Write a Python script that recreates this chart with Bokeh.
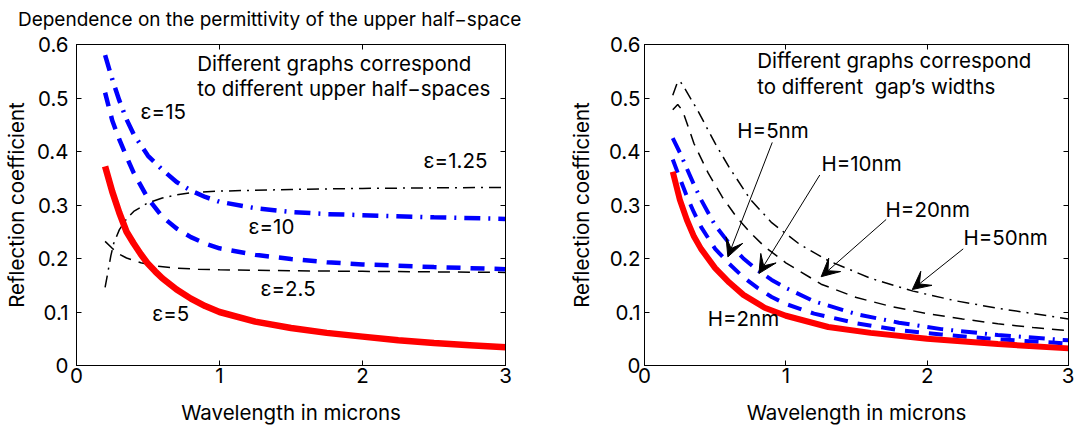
from bokeh.plotting import figure
from bokeh.models import LinearAxis, FixedTicker, Label, Arrow, VeeHead, Range1d
from bokeh.layouts import row
from bokeh.embed import file_html
from bokeh.resources import INLINE

FONT = "Inter"
FS = "20.5px"
TITLE_FS = "19px"

# ---------------- data: left panel (permittivity) ----------------
lam_e5 = [0.2, 0.25, 0.3, 0.35, 0.4, 0.45, 0.5, 0.55, 0.6, 0.7, 0.8, 0.9, 1.0, 1.25, 1.5, 1.75, 2.0, 2.25, 2.5, 2.75, 3.0]
R_e5 = [0.372, 0.325, 0.285, 0.250, 0.228, 0.208, 0.190, 0.176, 0.163, 0.142, 0.125, 0.111, 0.100, 0.082, 0.070, 0.061, 0.054, 0.047, 0.042, 0.038, 0.034]

lam_e10 = [0.2, 0.25, 0.3, 0.35, 0.4, 0.5, 0.6, 0.7, 0.8, 0.9, 1.0, 1.25, 1.5, 1.75, 2.0, 2.5, 3.0]
R_e10 = [0.510, 0.458, 0.422, 0.390, 0.360, 0.312, 0.278, 0.256, 0.240, 0.228, 0.219, 0.207, 0.199, 0.193, 0.189, 0.184, 0.180]

lam_e15 = [0.2, 0.25, 0.3, 0.35, 0.4, 0.5, 0.6, 0.7, 0.8, 0.9, 1.0, 1.25, 1.5, 1.75, 2.0, 2.5, 3.0]
R_e15 = [0.580, 0.535, 0.495, 0.460, 0.432, 0.392, 0.366, 0.343, 0.327, 0.315, 0.306, 0.294, 0.287, 0.283, 0.281, 0.277, 0.274]

lam_e125 = [0.2, 0.22, 0.24, 0.26, 0.3, 0.35, 0.4, 0.5, 0.6, 0.7, 0.8, 1.0, 1.5, 2.0, 2.5, 3.0]
R_e125 = [0.146, 0.175, 0.205, 0.228, 0.254, 0.274, 0.288, 0.304, 0.313, 0.319, 0.323, 0.326, 0.329, 0.331, 0.332, 0.333]

lam_e25 = [0.2, 0.25, 0.3, 0.35, 0.45, 0.55, 0.7, 0.85, 1.0, 1.5, 2.0, 2.5, 3.0]
R_e25 = [0.232, 0.219, 0.208, 0.201, 0.192, 0.186, 0.182, 0.180, 0.179, 0.177, 0.176, 0.175, 0.174]

# ---------------- data: right panel (gap width) ----------------
lam_h2 = [0.2, 0.25, 0.3, 0.35, 0.4, 0.5, 0.6, 0.7, 0.85, 1.0, 1.3, 1.6, 2.0, 2.5, 3.0]
R_h2 = [0.362, 0.310, 0.272, 0.241, 0.218, 0.182, 0.155, 0.132, 0.108, 0.093, 0.072, 0.061, 0.050, 0.040, 0.032]

lam_h5 = [0.2, 0.25, 0.3, 0.35, 0.4, 0.5, 0.6, 0.7, 0.8, 0.9, 1.0, 1.2, 1.5, 1.8, 2.1, 2.5, 3.0]
R_h5 = [0.385, 0.350, 0.316, 0.286, 0.259, 0.218, 0.190, 0.165, 0.145, 0.128, 0.115, 0.097, 0.079, 0.066, 0.058, 0.049, 0.041]

lam_h10 = [0.2, 0.25, 0.3, 0.35, 0.4, 0.5, 0.6, 0.7, 0.8, 0.9, 1.0, 1.2, 1.5, 1.8, 2.1, 2.5, 3.0]
R_h10 = [0.425, 0.398, 0.368, 0.338, 0.310, 0.262, 0.228, 0.200, 0.178, 0.160, 0.145, 0.120, 0.096, 0.080, 0.068, 0.057, 0.047]

lam_h20 = [0.2, 0.235, 0.27, 0.35, 0.45, 0.55, 0.65, 0.75, 0.85, 1.0, 1.25, 1.5, 1.75, 2.0, 2.25, 2.5, 2.75, 3.0]
R_h20 = [0.478, 0.488, 0.476, 0.415, 0.360, 0.315, 0.278, 0.248, 0.222, 0.192, 0.152, 0.127, 0.110, 0.097, 0.087, 0.078, 0.071, 0.065]

lam_h50 = [0.2, 0.23, 0.25, 0.28, 0.38, 0.5, 0.6, 0.75, 0.9, 1.1, 1.3, 1.6, 1.9, 2.2, 2.5, 2.75, 3.0]
R_h50 = [0.505, 0.527, 0.532, 0.520, 0.475, 0.415, 0.370, 0.310, 0.267, 0.226, 0.196, 0.163, 0.139, 0.121, 0.107, 0.097, 0.087]

x_ticks = [0, 1, 2, 3]
y_ticks = [0, 0.1, 0.2, 0.3, 0.4, 0.5, 0.6]

# text annotations (data coordinates)
left_notes = [
    ("Different graphs correspond", 0.844, 0.564),
    ("to different upper half\u2212spaces", 0.844, 0.518),
    ("\u03b5=15", 0.448, 0.475),
    ("\u03b5=1.25", 2.427, 0.383),
    ("\u03b5=10", 1.203, 0.260),
    ("\u03b5=2.5", 1.287, 0.143),
    ("\u03b5=5", 0.529, 0.097),
]
right_notes = [
    ("Different graphs correspond", 0.797, 0.571),
    ("to different\u00a0 gap\u2019s widths", 0.797, 0.521),
    ("H=5nm", 0.657, 0.439),
    ("H=10nm", 1.252, 0.378),
    ("H=20nm", 1.706, 0.292),
    ("H=50nm", 2.257, 0.240),
    ("H=2nm", 0.448, 0.087),
]
arrow_tail_x = [0.904, 1.24, 1.71, 2.255]
arrow_tail_y = [0.417, 0.356, 0.273, 0.218]
arrow_tip_x = [0.59, 0.81, 1.25, 1.895]
arrow_tip_y = [0.203, 0.172, 0.166, 0.142]

title_text = "Dependence on the permittivity of the upper half\u2212space"


def make_fig(width, bl, br, bt):
    p = figure(width=width, height=427, x_range=Range1d(0, 3), y_range=Range1d(0, 0.6),
               output_backend="svg", toolbar_location=None,
               min_border_left=bl, min_border_right=br, min_border_top=bt, min_border_bottom=58)
    p.grid.visible = False
    p.outline_line_color = "black"
    p.outline_line_width = 1
    p.background_fill_color = "white"
    p.border_fill_color = "white"
    p.xaxis[0].ticker = FixedTicker(ticks=x_ticks)
    p.yaxis[0].ticker = FixedTicker(ticks=y_ticks)
    p.xaxis[0].axis_label = "Wavelength in microns"
    p.yaxis[0].axis_label = "Reflection coefficient"
    p.yaxis[0].major_label_overrides = {0: "0"}
    for ax in (p.xaxis[0], p.yaxis[0]):
        ax.major_tick_in = 5
        ax.major_tick_out = 0
        ax.minor_tick_line_color = None
        ax.axis_line_color = "black"
        ax.major_tick_line_color = "black"
        ax.major_label_text_font = FONT
        ax.major_label_text_font_size = FS
        ax.major_label_text_color = "black"
        ax.axis_label_text_font = FONT
        ax.axis_label_text_font_size = FS
        ax.axis_label_text_font_style = "normal"
        ax.axis_label_text_color = "black"
    p.xaxis[0].major_label_standoff = 2
    p.xaxis[0].axis_label_standoff = 14
    top = LinearAxis(ticker=FixedTicker(ticks=x_ticks))
    right = LinearAxis(ticker=FixedTicker(ticks=y_ticks))
    for ax in (top, right):
        ax.major_tick_in = 5
        ax.major_tick_out = 0
        ax.minor_tick_line_color = None
        ax.major_label_text_font_size = "1px"
        ax.major_label_text_color = None
        ax.major_label_standoff = 0
        ax.axis_line_color = "black"
    p.add_layout(top, "above")
    p.add_layout(right, "right")
    return p, top


def add_note(p, text, x, y):
    p.add_layout(Label(x=x, y=y, text=text, text_font=FONT, text_font_size=FS,
                       text_color="black", text_align="left", text_baseline="middle"))


# ---------------- left figure ----------------
pl, pl_top = make_fig(565, 76, 60, 44)
pl.yaxis[0].major_label_standoff = 8
pl.yaxis[0].axis_label_standoff = 5
# overall heading, carried by the top axis (left part of the page)
pl_top.axis_label = title_text + "\u00a0" * 8
pl_top.axis_label_text_font = FONT
pl_top.axis_label_text_font_size = TITLE_FS
pl_top.axis_label_text_font_style = "normal"
pl_top.axis_label_text_color = "black"
pl_top.axis_label_standoff = 14
pl.line(lam_e125, R_e125, line_color="black", line_width=1.5, line_dash="12 6 2 6")
pl.line(lam_e25, R_e25, line_color="black", line_width=1.5, line_dash="12 8")
pl.line(lam_e10, R_e10, line_color="blue", line_width=4.5, line_dash="14 10")
pl.line(lam_e15, R_e15, line_color="blue", line_width=4.5, line_dash="16 8 2 8")
pl.line(lam_e5, R_e5, line_color="red", line_width=6.5)
for t, x, y in left_notes:
    add_note(pl, t, x, y)

# ---------------- right figure ----------------
pr, pr_top = make_fig(509, 74, 6, 42)
pr.yaxis[0].major_label_standoff = 4
pr.yaxis[0].axis_label_standoff = 12
pr.line(lam_h50, R_h50, line_color="black", line_width=1.5, line_dash="12 6 2 6")
pr.line(lam_h20, R_h20, line_color="black", line_width=1.5, line_dash="12 8")
pr.line(lam_h10, R_h10, line_color="blue", line_width=4, line_dash="16 8 2 8")
pr.line(lam_h5, R_h5, line_color="blue", line_width=4, line_dash="14 10")
pr.line(lam_h2, R_h2, line_color="red", line_width=6)
for t, x, y in right_notes:
    add_note(pr, t, x, y)
for x0, y0, x1, y1 in zip(arrow_tail_x, arrow_tail_y, arrow_tip_x, arrow_tip_y):
    pr.add_layout(Arrow(x_start=x0, y_start=y0, x_end=x1, y_end=y1, line_color="black", line_width=1,
                        end=VeeHead(size=18, fill_color="black", line_color="black")))

layout = row(pl, pr)
open("out.html", "w").write(file_html(layout, INLINE))
